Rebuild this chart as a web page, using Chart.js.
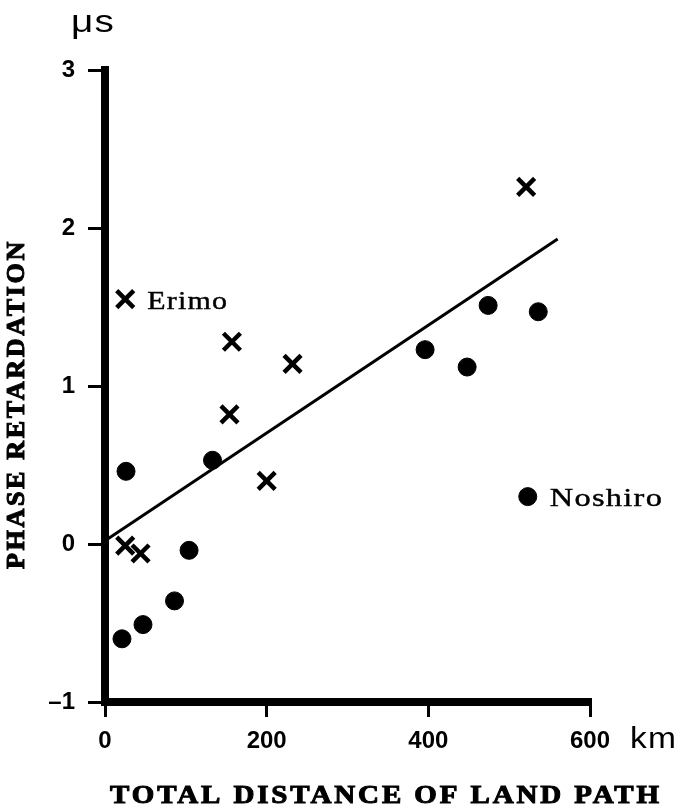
<!DOCTYPE html>
<html lang="en">
<head>
    <meta charset="UTF-8">
    <title>Phase retardation vs land path</title>
    <script src="https://cdn.jsdelivr.net/npm/chart.js"></script>
    <style>
        html, body { margin: 0; padding: 0; background: #fff; }
        #wrap { width: 684px; height: 809px; }
    </style>
</head>
<body>
    <div id="wrap">
        <canvas id="phaseChart" width="684" height="809"></canvas>
    </div>

    <script>
        // Values
        const xTicks = [0, 200, 400, 600];
        const yTicks = [-1, 0, 1, 2, 3];

        // "x" marks
        const crossX = [25, 157, 232, 154, 200, 521, 25, 44];
        const crossY = [1.55, 1.28, 1.14, 0.82, 0.40, 2.26, -0.01, -0.06];

        // filled dots
        const dotX = [26, 133, 104, 86, 47, 21, 396, 448, 474, 536, 523];
        const dotY = [0.46, 0.53, -0.04, -0.36, -0.51, -0.60, 1.23, 1.12, 1.51, 1.47, 0.30];

        // fitted line end points
        const fitX = [0, 560];
        const fitY = [0.02, 1.93];

        // station labels
        const noteText = ['Erimo', 'Noshiro'];
        const noteX = [25, 523];
        const noteY = [1.55, 0.30];

        const toPoints = (xs, ys) => xs.map((x, i) => ({ x: x, y: ys[i] }));

        // draw text stretched sideways so it spans the given width
        function stretchedText(ctx, text, x, y, width, spacing, stroke) {
            ctx.save();
            ctx.letterSpacing = (spacing || 0) + 'px';
            const w = ctx.measureText(text).width;
            const sx = width / w;
            ctx.translate(x, y);
            ctx.scale(sx, 1);
            ctx.fillText(text, 0, 0);
            if (stroke) {
                ctx.lineWidth = stroke;
                ctx.strokeStyle = '#000';
                ctx.strokeText(text, 0, 0);
            }
            ctx.restore();
        }

        const textPlugin = {
            id: 'figureText',
            afterDraw(chart) {
                const ctx = chart.ctx;
                const xs = chart.scales.x;
                const ys = chart.scales.y;
                ctx.save();
                ctx.fillStyle = '#000';

                // unit labels
                ctx.textAlign = 'left';
                ctx.textBaseline = 'alphabetic';
                ctx.font = '32px "Liberation Sans"';
                stretchedText(ctx, '\u03bcs', 71, 32, 44, 1);
                ctx.font = '30px "Liberation Sans"';
                stretchedText(ctx, 'km', 630, 748, 47, 1);

                // station labels
                ctx.font = '25px "Liberation Serif"';
                ctx.textBaseline = 'middle';
                noteText.forEach((t, i) => {
                    const px = xs.getPixelForValue(noteX[i]) + 22;
                    const py = ys.getPixelForValue(noteY[i]) + 3;
                    stretchedText(ctx, t, px, py, t.length * 16.2, 1, 0.4);
                });

                // axis titles
                ctx.font = 'bold 25px "Liberation Serif"';
                stretchedText(ctx, 'TOTAL DISTANCE OF LAND PATH', 110, 797, 552, 2.5, 1);

                ctx.translate(18, 569);
                ctx.rotate(-Math.PI / 2);
                stretchedText(ctx, 'PHASE RETARDATION', 0, 0, 330, 2.5, 1);

                ctx.restore();
            }
        };

        const ctx = document.getElementById('phaseChart').getContext('2d');

        const phaseChart = new Chart(ctx, {
            type: 'scatter',
            data: {
                datasets: [
                    {
                        label: 'fit',
                        type: 'line',
                        data: toPoints(fitX, fitY),
                        borderColor: '#000',
                        borderWidth: 3,
                        pointRadius: 0,
                        fill: false
                    },
                    {
                        label: 'x marks',
                        data: toPoints(crossX, crossY),
                        pointStyle: 'crossRot',
                        radius: 12,
                        borderWidth: 4.5,
                        borderColor: '#000',
                        backgroundColor: '#000'
                    },
                    {
                        label: 'dots',
                        data: toPoints(dotX, dotY),
                        pointStyle: 'circle',
                        radius: 9,
                        borderWidth: 1,
                        borderColor: '#000',
                        backgroundColor: '#000'
                    }
                ]
            },
            options: {
                responsive: false,
                animation: false,
                clip: false,
                layout: {
                    padding: { top: 70, right: 94, left: 0, bottom: 0 }
                },
                plugins: {
                    legend: { display: false },
                    tooltip: { enabled: false }
                },
                scales: {
                    x: {
                        type: 'linear',
                        min: 0,
                        max: 600,
                        afterFit: s => { s.height = 107; },
                        afterBuildTicks: s => { s.ticks = xTicks.map(v => ({ value: v })); },
                        border: { display: true, width: 8, color: '#000' },
                        grid: {
                            drawOnChartArea: false,
                            drawTicks: true,
                            tickLength: 15,
                            lineWidth: 3,
                            color: '#000'
                        },
                        ticks: {
                            padding: 10,
                            color: '#000',
                            font: { family: 'Liberation Sans', size: 24, weight: 'bold' }
                        }
                    },
                    y: {
                        min: -1,
                        max: 3,
                        afterFit: s => { s.width = 105; },
                        afterBuildTicks: s => { s.ticks = yTicks.map(v => ({ value: v })); },
                        border: { display: true, width: 8, color: '#000' },
                        grid: {
                            drawOnChartArea: false,
                            drawTicks: true,
                            tickLength: 17,
                            lineWidth: 3,
                            color: '#000'
                        },
                        ticks: {
                            padding: 13,
                            color: '#000',
                            font: { family: 'Liberation Sans', size: 24, weight: 'bold' },
                            callback: v => (v < 0 ? '\u2013' + Math.abs(v) : String(v))
                        }
                    }
                }
            },
            plugins: [textPlugin]
        });
    </script>
</body>
</html>
